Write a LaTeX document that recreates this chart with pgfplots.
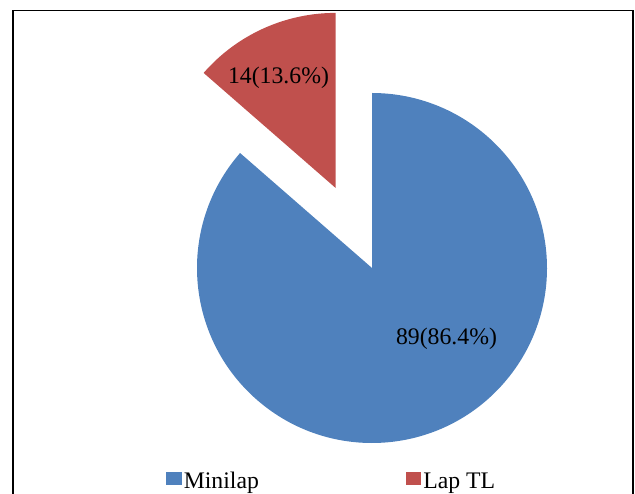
\documentclass[border=0pt]{standalone}
\usepackage{pgfplots}
\pgfplotsset{compat=1.18}
\usepackage{pgfplotstable}
\usepackage{fontspec}
\setmainfont{Liberation Serif}
\definecolor{minilap}{HTML}{4F81BD}
\definecolor{laptl}{HTML}{C0504D}
\pgfplotstableread{
label value
Minilap 89
LapTL 14
}\piedata
\begin{document}
\begin{tikzpicture}
\path[use as bounding box] (0,0) rectangle (476.25pt,369.75pt);
\pgfplotstablegetelem{0}{value}\of\piedata \let\va\pgfplotsretval
\pgfplotstablegetelem{1}{value}\of\piedata \let\vb\pgfplotsretval
\pgfmathsetmacro\tot{\va+\vb}
\pgfmathsetmacro\angb{\vb/\tot*360}
\pgfmathsetmacro\endb{90+\angb}
\pgfmathsetmacro\midb{90+\angb/2}
\begin{axis}[x=0.75pt,y=0.75pt,xmin=0,xmax=635,ymin=0,ymax=493,
  hide axis,scale only axis,anchor=origin,at={(0,0)},clip=false]
% Minilap slice
\fill[minilap] (axis cs:372,225) -- ++(\endb:131.25pt)
  arc[start angle=\endb,end angle=450,radius=131.25pt] -- cycle;
% Lap TL slice (exploded)
\fill[laptl] (axis cs:372,225) ++(\midb:66pt) -- ++(90:131.25pt)
  arc[start angle=90,end angle=\endb,radius=131.25pt] -- cycle;
% data labels
\node[font=\fontsize{17.8}{21}\selectfont,inner sep=0pt] at (axis cs:278.5,415) {14(13.6\%)};
\node[font=\fontsize{17.8}{21}\selectfont,inner sep=0pt] at (axis cs:446.5,154) {89(86.4\%)};
% frame
\draw[line width=1.4pt] (axis cs:13,-20) -- (axis cs:13,482.5) -- (axis cs:633,482.5) -- (axis cs:633,-20);
% legend
\fill[minilap] (axis cs:166,8) rectangle (axis cs:182,21);
\node[font=\fontsize{17.8}{21}\selectfont,inner sep=0pt,anchor=base west] at (axis cs:183.5,5) {Minilap};
\fill[laptl] (axis cs:406,8) rectangle (axis cs:421,21);
\node[font=\fontsize{17.8}{21}\selectfont,inner sep=0pt,anchor=base west] at (axis cs:423,5) {Lap TL};
\end{axis}
\end{tikzpicture}
\end{document}
